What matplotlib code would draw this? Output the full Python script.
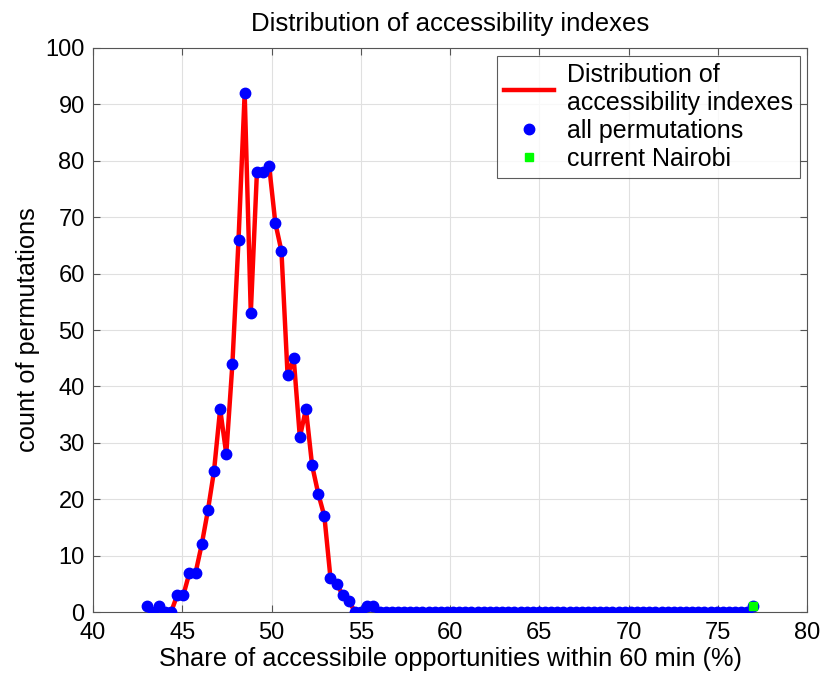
import numpy as np
import matplotlib
matplotlib.use("Agg")
import matplotlib.pyplot as plt

plt.rcParams['font.family'] = ['Liberation Sans', 'DejaVu Sans']

# share of opportunities, 100 bins from 43 to 77
x_start, x_end, n_bins = 43.0, 77.0, 100
counts = [1, 0, 1, 0, 0, 3, 3, 7, 7, 12,
          18, 25, 36, 28, 44, 66, 92, 53, 78, 78,
          79, 69, 64, 42, 45, 31, 36, 26, 21, 17,
          6, 5, 3, 2, 0, 0, 1, 1] + [0] * 61 + [1]
# red distribution line covers only these bins
line_first, line_last = 4, 34
# current Nairobi
nairobi_x = [77.0]
nairobi_y = [1]

xs = np.linspace(x_start, x_end, n_bins)
counts = np.array(counts)

fig = plt.figure(figsize=(8.24, 6.75), dpi=100)
ax = fig.add_axes([0.1129, 0.0933, 0.8665, 0.8356])

ax.plot(xs[line_first:line_last + 1], counts[line_first:line_last + 1],
        color='red', lw=3.2, label='Distribution of\naccessibility indexes', zorder=2)
ax.plot(xs, counts, 'o', color='blue', ms=7.5, mec='blue', label='all permutations', zorder=3)
ax.plot(nairobi_x, nairobi_y, 's', color='#00ff00', ms=6, mec='#00ff00',
        label='current Nairobi', zorder=4)

ax.set_xlim(40, 80)
ax.set_ylim(0, 100)
ax.set_xticks(range(40, 81, 5))
ax.set_yticks(range(0, 101, 10))
ax.grid(True, color='#e0e0e0', lw=0.8)
ax.set_axisbelow(True)
ax.tick_params(direction='in', top=True, right=True, labelsize=17, length=5, color='#555555')
ax.tick_params(axis='x', pad=7)
ax.tick_params(axis='y', pad=6)
for s in ax.spines.values():
    s.set_color('#555555')

ax.set_title('Distribution of accessibility indexes', fontsize=18.5, pad=12)
ax.set_xlabel('Share of accessibile opportunities within 60 min (%)', fontsize=18.3, labelpad=2)
ax.set_ylabel('count of permutations', fontsize=18.3, labelpad=4)

leg = ax.legend(loc='upper right', fontsize=18, handlelength=2.0, borderpad=0.3,
                labelspacing=0.15, handletextpad=0.5, borderaxespad=0, fancybox=False,
                bbox_to_anchor=(0.9902, 0.986))
leg.get_frame().set_edgecolor('#333333')
leg.get_frame().set_linewidth(0.8)

fig.savefig('out.png', dpi=100)
